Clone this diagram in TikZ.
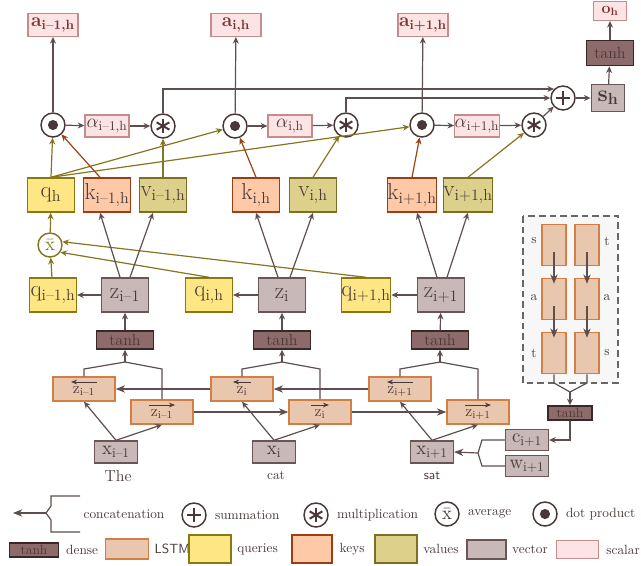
\documentclass[tikz,border=0pt]{standalone}
\usetikzlibrary{arrows.meta,positioning,calc}
\definecolor{txt}{HTML}{4A3838}
\definecolor{arr}{HTML}{5E4E4E}
\definecolor{olv}{HTML}{857520}
\definecolor{kbrown}{HTML}{9A4414}
\definecolor{outred}{HTML}{7A3434}
\definecolor{sclfill}{HTML}{FCE4E4}
\definecolor{scldraw}{HTML}{C48C8C}
\definecolor{vecfill}{HTML}{C8B8B8}
\definecolor{vecdraw}{HTML}{6A5656}
\definecolor{valfill}{HTML}{DDD08A}
\definecolor{valdraw}{HTML}{7D6E22}
\definecolor{keyfill}{HTML}{FEC9A6}
\definecolor{keydraw}{HTML}{9B3E12}
\definecolor{qfill}{HTML}{FEE684}
\definecolor{qdraw}{HTML}{8A7810}
\definecolor{lstmfill}{HTML}{E9C6AE}
\definecolor{lstmdraw}{HTML}{D47E44}
\definecolor{densefill}{HTML}{8E6B6B}
\definecolor{densedraw}{HTML}{3A2828}
\definecolor{panel}{HTML}{F7F7F7}
\definecolor{dashgray}{HTML}{666666}
\tikzset{
  bx/.style={draw, line width=1.1pt, inner sep=0pt, text=txt},
  sclbox/.style={bx, fill=sclfill, draw=scldraw, line width=0.9pt},
  abox/.style={sclbox, minimum width=37.5pt, minimum height=17pt, font=\Large\bfseries, text=outred},
  albox/.style={sclbox, minimum width=33pt, minimum height=16.5pt, font=\Large},
  vecbox/.style={bx, fill=vecfill, draw=vecdraw},
  zbox/.style={vecbox, minimum width=35pt, minimum height=25.5pt, font=\LARGE},
  xbox/.style={vecbox, minimum width=32pt, minimum height=16.5pt, font=\Large},
  qrybox/.style={bx, fill=qfill, draw=qdraw, minimum width=35pt, minimum height=25.5pt, font=\LARGE},
  keybox/.style={bx, fill=keyfill, draw=keydraw, minimum width=35pt, minimum height=25.5pt, font=\LARGE},
  valbox/.style={bx, fill=valfill, draw=valdraw, minimum width=35pt, minimum height=25.5pt, font=\LARGE},
  lstmbox/.style={bx, fill=lstmfill, draw=lstmdraw, minimum width=46.5pt, minimum height=18pt, font=\large, text height=8pt, text depth=2pt},
  cellbox/.style={fill=lstmfill, draw=lstmdraw, line width=0.9pt, minimum width=18pt, minimum height=31pt, inner sep=0pt},
  densebox/.style={bx, fill=densefill, draw=densedraw, minimum width=43pt, minimum height=13.5pt, font=\large},
  opnode/.style={circle, draw=txt, fill=white, line width=1.1pt, minimum size=18pt, inner sep=0pt, text=txt},
  dotop/.style={opnode, path picture={\fill[txt] (path picture bounding box.center) circle (3.8pt);}},
  sumop/.style={opnode, path picture={
    \foreach \ang in {0,90}
      \draw[txt, line width=1.6pt] (path picture bounding box.center) ++(\ang:5.5pt) -- ++(\ang+180:11pt);}},
  starop/.style={opnode, path picture={
    \foreach \ang in {90,30,150}
      \draw[txt, line width=1.5pt] (path picture bounding box.center) ++(\ang:5.5pt) -- ++(\ang+180:11pt);}},
  plain/.style={draw=arr, line width=0.9pt},
  conn/.style={plain, -{Stealth[length=5pt,width=4.5pt]}},
  qconn/.style={conn, draw=olv},
  kconn/.style={conn, draw=kbrown},
  bigtip/.style={-{Stealth[length=7pt,width=5.5pt,inset=2.2pt]}},
  ovarr/.style={draw=txt, line width=0.7pt, -{Stealth[length=4.5pt,width=3.5pt]}},
  lbl/.style={text=txt, inner sep=1pt},
}
\begin{document}
\begin{tikzpicture}[x=0.75pt, y=-0.75pt]
\useasboundingbox (0,0) rectangle (641,565);

\node[abox] (a1) at (53,25) {a\textsubscript{i--1,h}};
\node[abox] (a2) at (236,25) {a\textsubscript{i,h}};
\node[abox] (a3) at (423,25) {a\textsubscript{i+1,h}};
\node[sclbox, minimum width=25pt, minimum height=14pt, font=\large\bfseries, text=outred] (oh) at (610,11) {o\textsubscript{h}};
\node[densebox, minimum width=35pt, minimum height=19pt] (tth) at (610,53) {tanh};
\node[vecbox, minimum width=25pt, minimum height=20pt, font=\LARGE\bfseries] (sh) at (608,98) {s\textsubscript{h}};
\node[sumop] (plusnode) at (563,98) {};

\node[dotop] (dot1) at (53,125) {};
\node[albox] (al1) at (107,126) {$\alpha$\textsubscript{i--1,h}};
\node[starop] (st1) at (163,126) {};
\node[dotop] (dot2) at (235,126) {};
\node[albox] (al2) at (290,126) {$\alpha$\textsubscript{i,h}};
\node[starop] (st2) at (346,125) {};
\node[dotop] (dot3) at (422,125) {};
\node[albox] (al3) at (477,126) {$\alpha$\textsubscript{i+1,h}};
\node[starop] (st3) at (534,125) {};

\node[qrybox] (qh) at (51,195) {q\textsubscript{h}};
\node[keybox] (k1) at (107,195) {k\textsubscript{i--1,h}};
\node[valbox] (v1) at (163,195) {v\textsubscript{i--1,h}};
\node[keybox] (k2) at (256,195) {k\textsubscript{i,h}};
\node[valbox] (v2) at (313,195) {v\textsubscript{i,h}};
\node[keybox] (k3) at (412,195) {k\textsubscript{i+1,h}};
\node[valbox] (v3) at (468,195) {v\textsubscript{i+1,h}};

\node[opnode, draw=olv, text=olv, font=\Large] (avg) at (50,245) {$\bar{\mathrm{x}}$};

\node[qrybox] (q1) at (53,295) {q\textsubscript{i--1,h}};
\node[zbox] (z1) at (125,295) {z\textsubscript{i--1}};
\node[qrybox] (q2) at (209,295) {q\textsubscript{i,h}};
\node[zbox] (z2) at (282,295) {z\textsubscript{i}};
\node[qrybox] (q3) at (366,295) {q\textsubscript{i+1,h}};
\node[zbox] (z3) at (441,295) {z\textsubscript{i+1}};

\node[densebox] (t1) at (125,340) {tanh};
\node[densebox] (t2) at (282,340) {tanh};
\node[densebox] (t3) at (440,340) {tanh};

\node[lstmbox] (bz1) at (84,389) {z\textsubscript{i--1}};
\node[lstmbox] (bz2) at (242,389) {z\textsubscript{i}};
\node[lstmbox] (bz3) at (400,389) {z\textsubscript{i+1}};
\node[lstmbox] (fz1) at (162,412) {z\textsubscript{i--1}};
\node[lstmbox] (fz2) at (320,412) {z\textsubscript{i}};
\node[lstmbox] (fz3) at (478,412) {z\textsubscript{i+1}};
\draw[ovarr] ($(bz1.center)+(13,-7)$) -- ($(bz1.center)+(-13,-7)$);
\draw[ovarr] ($(bz2.center)+(9,-7)$) -- ($(bz2.center)+(-9,-7)$);
\draw[ovarr] ($(bz3.center)+(13,-7)$) -- ($(bz3.center)+(-13,-7)$);
\draw[ovarr] ($(fz1.center)+(-13,-7)$) -- ($(fz1.center)+(13,-7)$);
\draw[ovarr] ($(fz2.center)+(-9,-7)$) -- ($(fz2.center)+(9,-7)$);
\draw[ovarr] ($(fz3.center)+(-13,-7)$) -- ($(fz3.center)+(13,-7)$);

\node[xbox] (x1) at (116,452) {x\textsubscript{i--1}};
\node[xbox] (x2) at (274,452) {x\textsubscript{i}};
\node[xbox] (x3) at (432,452) {x\textsubscript{i+1}};
\node[lbl, font=\large] (wthe) at (118,476) {The};
\node[lbl] (wcat) at (276,475) {cat};
\node[lbl, font=\sffamily] (wsat) at (432,476) {sat};

\draw[dashed, draw=dashgray, fill=panel, line width=1pt, dash pattern=on 5pt off 3pt] (523,216) rectangle (618,383);
\node[cellbox] (l1) at (554,245) {};
\node[cellbox] (l2) at (554,299) {};
\node[cellbox] (l3) at (554,353) {};
\node[cellbox] (r1) at (587,245) {};
\node[cellbox] (r2) at (587,299) {};
\node[cellbox] (r3) at (587,353) {};
\node[lbl] (ls1) at (534,241) {s};
\node[lbl] (la1) at (534,298) {a};
\node[lbl] (lt1) at (534,353) {t};
\node[lbl] (rt1) at (607,241) {t};
\node[lbl] (ra1) at (607,298) {a};
\node[lbl] (rs1) at (607,353) {s};
\node[densebox, minimum width=33pt, minimum height=10.5pt, font=\normalsize] (sm) at (570,413) {tanh};
\node[vecbox, minimum width=32pt, minimum height=16pt, font=\Large] (cnode) at (527,440) {c\textsubscript{i+1}};
\node[vecbox, minimum width=32pt, minimum height=16pt, font=\Large] (wnode) at (527,466) {w\textsubscript{i+1}};

\draw[conn] (dot1) -- (a1);
\draw[conn] (dot2) -- (a2);
\draw[conn] (dot3) -- (a3);
\draw[conn] (st1.north) |- (plusnode.135);
\draw[conn] (st2.north) |- (plusnode.west);
\draw[conn] (st3) -- (plusnode);
\draw[conn] (plusnode) -- (sh);
\draw[conn] (sh) -- (tth);
\draw[conn] (tth) -- (oh);
\draw[conn] (dot1) -- (al1);
\draw[conn] (al1) -- (st1);
\draw[conn] (dot2) -- (al2);
\draw[conn] (al2) -- (st2);
\draw[conn] (dot3) -- (al3);
\draw[conn] (al3) -- (st3);

\draw[qconn] (qh.north) -- (dot1);
\draw[qconn] (qh.north) -- (dot2);
\draw[qconn] (qh.north) -- (dot3);
\draw[kconn] ($(k1.north)+(-7,0)$) -- (dot1);
\draw[kconn] (k2.north) -- (dot2);
\draw[kconn] (k3.north) -- (dot3);
\draw[qconn] (v1.north) -- (st1);
\draw[qconn] (v2.north) -- (st2);
\draw[qconn] (v3.north) -- (st3);

\draw[qconn] (avg) -- (qh);
\draw[qconn] (q1) -- (avg);
\draw[qconn] (q2.north) -- (avg.-35);
\draw[qconn] (q3.north) -- (avg.15);

\draw[conn] ($(z1.north)+(-5,0)$) -- ($(k1.south)+(-7,0)$);
\draw[conn] ($(z1.north)+(5,0)$) -- ($(v1.south)+(-10,0)$);
\draw[conn] ($(z2.north)+(-4,0)$) -- (k2.south);
\draw[conn] ($(z2.north)+(8,0)$) -- (v2.south);
\draw[conn] ($(z3.north)+(-4,0)$) -- ($(k3.south)+(5,0)$);
\draw[conn] ($(z3.north)+(6,0)$) -- (v3.south);
\draw[conn] (z1) -- (q1);
\draw[conn] (z2) -- (q2);
\draw[conn] (z3) -- (q3);
\draw[conn] (t1) -- (z1);
\draw[conn] (t2) -- (z2);
\draw[conn] (t3) -- (z3);

\coordinate (j1) at (125,362);
\coordinate (j2) at (282,362);
\coordinate (j3) at (440,362);
\draw[plain] (bz1.north) -- ($(bz1.north |- j1)+(0,7)$) -- (j1) -- ($(fz1.north |- j1)+(0,7)$) -- (fz1.north);
\draw[plain] (bz2.north) -- ($(bz2.north |- j2)+(0,7)$) -- (j2) -- ($(fz2.north |- j2)+(0,7)$) -- (fz2.north);
\draw[plain] (bz3.north) -- ($(bz3.north |- j3)+(0,7)$) -- (j3) -- ($(fz3.north |- j3)+(0,7)$) -- (fz3.north);
\draw[conn] (j1) -- (t1);
\draw[conn] (j2) -- (t2);
\draw[conn] (j3) -- (t3);
\draw[conn, bigtip] (bz2) -- (bz1);
\draw[conn, bigtip] (bz3) -- (bz2);
\draw[conn, bigtip] (fz1) -- (fz2);
\draw[conn, bigtip] (fz2) -- (fz3);
\draw[conn] (x1.north) -- (bz1.south);
\draw[conn] (x1.north) -- (fz1.south);
\draw[conn] (x2.north) -- (bz2.south);
\draw[conn] (x2.north) -- (fz2.south);
\draw[conn] (x3.north) -- (bz3.south);
\draw[conn] (x3.north) -- (fz3.south);

\draw[conn, bigtip] ($(l1.center)+(0,7)$) -- ($(l2.north)+(0,6)$);
\draw[conn, bigtip] ($(l2.center)+(0,7)$) -- ($(l3.north)+(0,6)$);
\draw[conn, bigtip] ($(r1.center)+(0,7)$) -- ($(r2.north)+(0,6)$);
\draw[conn, bigtip] ($(r2.center)+(0,7)$) -- ($(r3.north)+(0,6)$);
\coordinate (jr) at (570,392);
\draw[plain] (l3.south) -- ($(l3.south |- jr)+(0,-9)$) -- (jr) -- ($(r3.south |- jr)+(0,-9)$) -- (r3.south);
\draw[conn] (jr) -- (sm);
\draw[conn] (sm.south) |- (cnode.east);
\coordinate (jx) at (478,453);
\draw[plain] (cnode.west) -- ($(cnode.west -| jx)+(4,0)$) -- (jx) -- ($(wnode.west -| jx)+(4,0)$) -- (wnode.west);
\draw[conn, bigtip] (jx) -- (x3.east);

\coordinate (lgc) at (46,513);
\coordinate (lgend) at (13,513);
\draw[plain] (80,496) -- (51,496) -- (51,506) -- (lgc) -- (51,520) -- (51,532) -- (80,532);
\draw[conn, bigtip] (lgc) -- (lgend);
\node[lbl, anchor=west] (lgcat) at (82,514) {concatenation};
\node[sumop] (lgsum) at (194,515) {};
\node[lbl, right=5pt of lgsum] (lgsumt) {summation};
\node[starop] (lgstar) at (316,515) {};
\node[lbl, right=5pt of lgstar] (lgstart) {multiplication};
\node[opnode, font=\Large] (lgavg) at (447,514) {$\bar{\mathrm{x}}$};
\node[lbl, right=5pt of lgavg] (lgavgt) {average};
\node[dotop] (lgdot) at (545,514) {};
\node[lbl, right=5pt of lgdot] (lgdott) {dot product};

\node[densebox, minimum width=36.75pt, minimum height=10.5pt, font=\normalsize] (lgdense) at (34,550) {tanh};
\node[lbl, right=4pt of lgdense] (lgdenset) {dense};
\node[lstmbox, minimum width=32pt, minimum height=15pt] (lglstm) at (127,549) {};
\node[lbl, right=3pt of lglstm, font=\sffamily] (lglstmt) {LSTM};
\node[qrybox, minimum width=31.5pt, minimum height=21pt] (lgq) at (210,549) {};
\node[lbl, right=3pt of lgq] (lgqt) {queries};
\node[keybox, minimum width=30pt, minimum height=21pt] (lgk) at (312,549) {};
\node[lbl, right=4pt of lgk] (lgkt) {keys};
\node[valbox, minimum width=31.5pt, minimum height=21pt] (lgv) at (396,549) {};
\node[lbl, right=3pt of lgv] (lgvt) {values};
\node[vecbox, minimum width=29pt, minimum height=14pt] (lgvec) at (486.5,549.5) {};
\node[lbl, right=3pt of lgvec] (lgvect) {vector};
\node[sclbox, minimum width=32pt, minimum height=14pt] (lgscl) at (577.5,549.5) {};
\node[lbl, right=4pt of lgscl] (lgsclt) {scalar};
\end{tikzpicture}
\end{document}
